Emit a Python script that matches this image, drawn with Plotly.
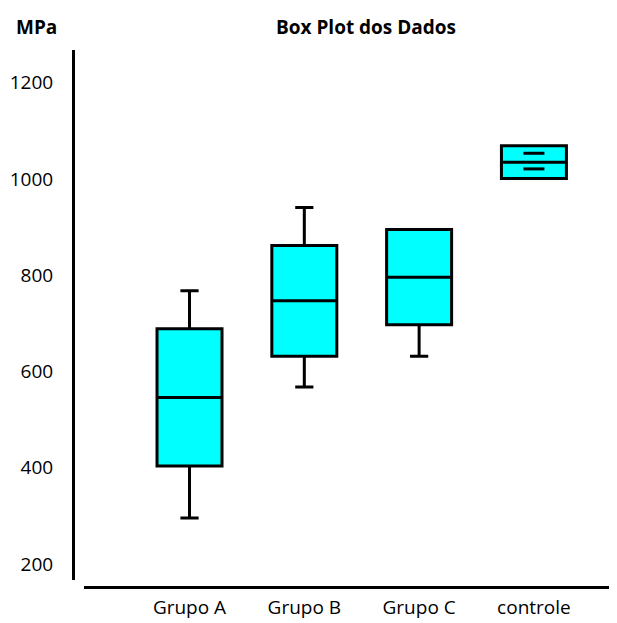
import plotly.graph_objects as go

categories = ["Grupo A", "Grupo B", "Grupo C", "controle"]
q1 = [404, 632, 697, 1001]
median = [546, 747, 796, 1035]
q3 = [689, 862, 895, 1069]
lowerfence = [296, 568, 632, 1001]
upperfence = [768, 941, 895, 1069]

# extra marks inside the "controle" box
marks_x = ["controle", "controle"]
marks_y = [1053.5, 1021]

yticks = [200, 400, 600, 800, 1000, 1200]

FONT = "Open Sans"
FS = 19
# page body has an 8px default margin, so the figure is 8px smaller
W, H = 609, 615
L, R, T, B = 65, 5, 42, 36

fig = go.Figure()
fig.add_trace(go.Box(
    x=categories, q1=q1, median=median, q3=q3,
    lowerfence=lowerfence, upperfence=upperfence,
    boxpoints=False, width=0.566, whiskerwidth=0.28,
    fillcolor="#00FFFF", line=dict(color="black", width=3),
    showlegend=False, hoverinfo="skip",
))
fig.add_trace(go.Scatter(
    x=marks_x, y=marks_y, mode="markers",
    marker=dict(symbol="line-ew", size=15, line=dict(color="black", width=3)),
    showlegend=False, hoverinfo="skip",
))

fig.update_layout(
    width=W, height=H,
    margin=dict(l=L, r=R, t=T, b=B, autoexpand=False),
    paper_bgcolor="white", plot_bgcolor="white",
    font=dict(family=FONT, size=FS, color="black"),
    title=dict(text="<b>Box Plot dos Dados</b>", xref="container", yref="container",
               x=(366 - 8) / W, y=1 - (27 - 8) / H, xanchor="center", yanchor="middle",
               font=dict(family=FONT, size=FS, color="black")),
    xaxis=dict(domain=[11 / 539, 1], range=[-0.919, 3.68], type="category",
               categoryorder="array", categoryarray=categories,
               showline=True, linewidth=3, linecolor="black", ticks="",
               showgrid=False, zeroline=False, anchor="free", position=0,
               automargin=False,
               ticklabelstandoff=2, tickfont=dict(size=FS)),
    yaxis=dict(domain=[7 / 537, 1], range=[167, 1268], tickvals=yticks,
               showline=True, linewidth=3, linecolor="black", ticks="",
               showgrid=False, zeroline=False, anchor="free", position=0,
               automargin=False,
               ticklabelstandoff=15, tickfont=dict(size=FS)),
    annotations=[dict(text="<b>MPa</b>", xref="paper", yref="paper",
                      x=(36 - 73) / 539, y=(587 - 27) / 537,
                      xanchor="center", yanchor="middle", showarrow=False,
                      font=dict(family=FONT, size=FS, color="black"))],
)

fig.write_html("out.html")
